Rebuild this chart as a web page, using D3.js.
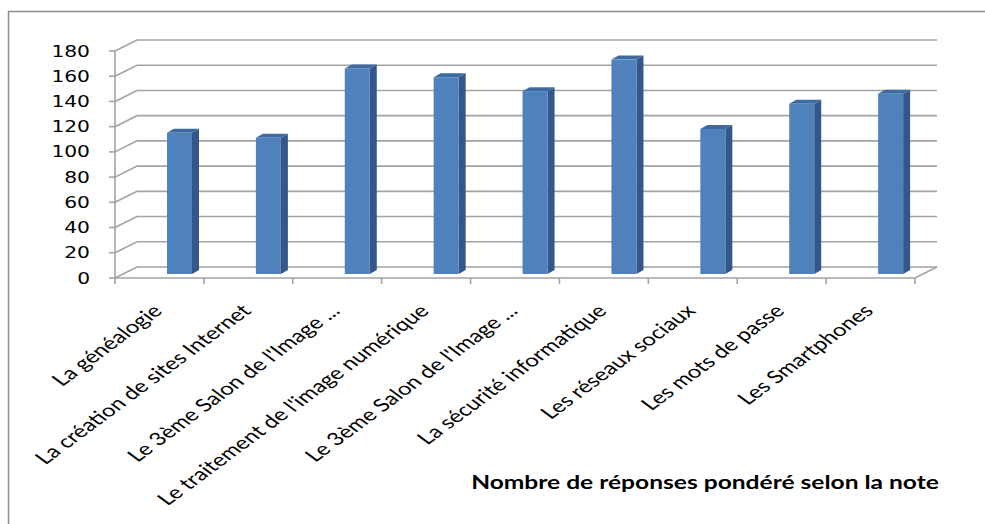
<!DOCTYPE html>
<html>
<head>
<meta charset="utf-8">
<script src="https://cdn.jsdelivr.net/npm/d3@7"></script>
<style>
  body { margin: 0; background: #fff; }
  svg { display: block; }
</style>
</head>
<body>
<div id="chart"></div>
<script>
// données
const categories = [
  "La généalogie",
  "La création de sites Internet",
  "Le 3ème Salon de l'Image ...",
  "Le traitement de l'image numérique",
  "Le 3ème Salon de l'Image ...",
  "La sécurité informatique",
  "Les réseaux sociaux",
  "Les mots de passe",
  "Les Smartphones"
]
const values = [112, 108, 163, 156, 145, 170, 115, 135, 143]
const yTicks = [0, 20, 40, 60, 80, 100, 120, 140, 160, 180]
const title = "Nombre de réponses pondéré selon la note"

function renderChart(frame_id) {
    let width = 985
    let height = 524
    let stretch = 1.35          // the picture is squeezed wider than tall
    let depthX = 22, depthY = -11 // back wall offset
    let gridColor = "#a3a3a3"

    var svg = d3.select("#" + frame_id)
        .append("svg")
        .attr("width", width)
        .attr("height", height)

    // outer frame (top and left edges only are visible)
    svg.append("path")
        .attr("d", "M8.5,524 L8.5,11.5 L985,11.5")
        .attr("fill", "none")
        .attr("stroke", "#8c8c8c")
        .attr("stroke-width", 1.5)

    var x = d3.scaleBand()
        .domain(d3.range(categories.length))
        .range([115, 915])

    var y = d3.scaleLinear().domain([0, 180]).range([278, 51])

    // gridlines: side wall diagonal + back wall horizontal
    svg.selectAll("grid")
        .data(yTicks)
        .enter()
        .append("path")
        .attr("d", function (d) {
            return "M115," + y(d) + " L" + (115 + depthX) + "," + (y(d) + depthY) + " L937," + (y(d) + depthY)
        })
        .attr("fill", "none")
        .attr("stroke", gridColor)
        .attr("stroke-width", 1.6)

    // floor front edge + right diagonal
    svg.append("path")
        .attr("d", "M115," + y(0) + " L915," + y(0) + " L937," + (y(0) + depthY))
        .attr("fill", "none")
        .attr("stroke", gridColor)
        .attr("stroke-width", 1.6)

    // y axis line and ticks
    svg.append("line")
        .attr("x1", 115).attr("x2", 115)
        .attr("y1", y(180)).attr("y2", y(0))
        .attr("stroke", gridColor)
        .attr("stroke-width", 1.6)

    svg.selectAll("ytick")
        .data(yTicks)
        .enter()
        .append("line")
        .attr("x1", 109).attr("x2", 115)
        .attr("y1", function (d) { return y(d) })
        .attr("y2", function (d) { return y(d) })
        .attr("stroke", gridColor)
        .attr("stroke-width", 1.6)

    svg.selectAll("ylabel")
        .data(yTicks)
        .enter()
        .append("text")
        .attr("transform", function (d) { return "translate(90," + (y(d) + 5.5) + ") scale(" + stretch + ",1)" })
        .text(function (d) { return d })
        .style("text-anchor", "end")
        .style("font-family", "DejaVu Sans")
        .style("font-size", "15px")
        .attr("fill", "#000")

    // x ticks on band boundaries
    var bounds = d3.range(categories.length + 1).map(function (i) { return 115 + i * x.step() })
    svg.selectAll("xtick")
        .data(bounds)
        .enter()
        .append("line")
        .attr("x1", function (d) { return d }).attr("x2", function (d) { return d })
        .attr("y1", y(0)).attr("y2", y(0) + 6)
        .attr("stroke", gridColor)
        .attr("stroke-width", 1.6)

    // bars drawn as 3D columns
    var yb = d3.scaleLinear().domain([0, 180]).range([274, 47])
    let barW = 25, sideX = 7, sideY = -4, barOff = 52

    var bars = svg.selectAll("bars")
        .data(values)
        .enter()
        .append("g")

    // side face
    bars.append("path")
        .attr("d", function (d, i) {
            let x0 = x(i) + barOff + barW
            return "M" + x0 + "," + yb(d) + " L" + (x0 + sideX) + "," + (yb(d) + sideY) +
                " L" + (x0 + sideX) + "," + (yb(0) + sideY) + " L" + x0 + "," + yb(0) + "Z"
        })
        .attr("fill", "#34578a")

    // top face
    bars.append("path")
        .attr("d", function (d, i) {
            let x0 = x(i) + barOff
            return "M" + x0 + "," + yb(d) + " L" + (x0 + sideX) + "," + (yb(d) + sideY) +
                " L" + (x0 + barW + sideX) + "," + (yb(d) + sideY) + " L" + (x0 + barW) + "," + yb(d) + "Z"
        })
        .attr("fill", "#3f6aa0")

    // front face
    bars.append("rect")
        .attr("x", function (d, i) { return x(i) + barOff })
        .attr("y", function (d) { return yb(d) })
        .attr("width", barW)
        .attr("height", function (d) { return yb(0) - yb(d) })
        .attr("fill", "#4f81bd")

    // category labels, rotated
    svg.selectAll("xlabel")
        .data(categories)
        .enter()
        .append("text")
        .attr("transform", function (d, i) {
            return "translate(" + (x(i) + x.bandwidth() / 2 + 4) + ",312) scale(" + stretch + ",1) rotate(-45)"
        })
        .text(function (d) { return d })
        .style("text-anchor", "end")
        .style("font-family", "Lato")
        .style("font-size", "17.8px")
        .attr("fill", "#000")

    // title
    svg.append("text")
        .attr("transform", "translate(705,489) scale(" + stretch + ",1)")
        .text(title)
        .style("text-anchor", "middle")
        .style("font-family", "Lato")
        .style("font-weight", "bold")
        .style("font-size", "18.2px")
        .attr("fill", "#000")
}

document.addEventListener('DOMContentLoaded', function () { renderChart("chart") }, false);
</script>
</body>
</html>
